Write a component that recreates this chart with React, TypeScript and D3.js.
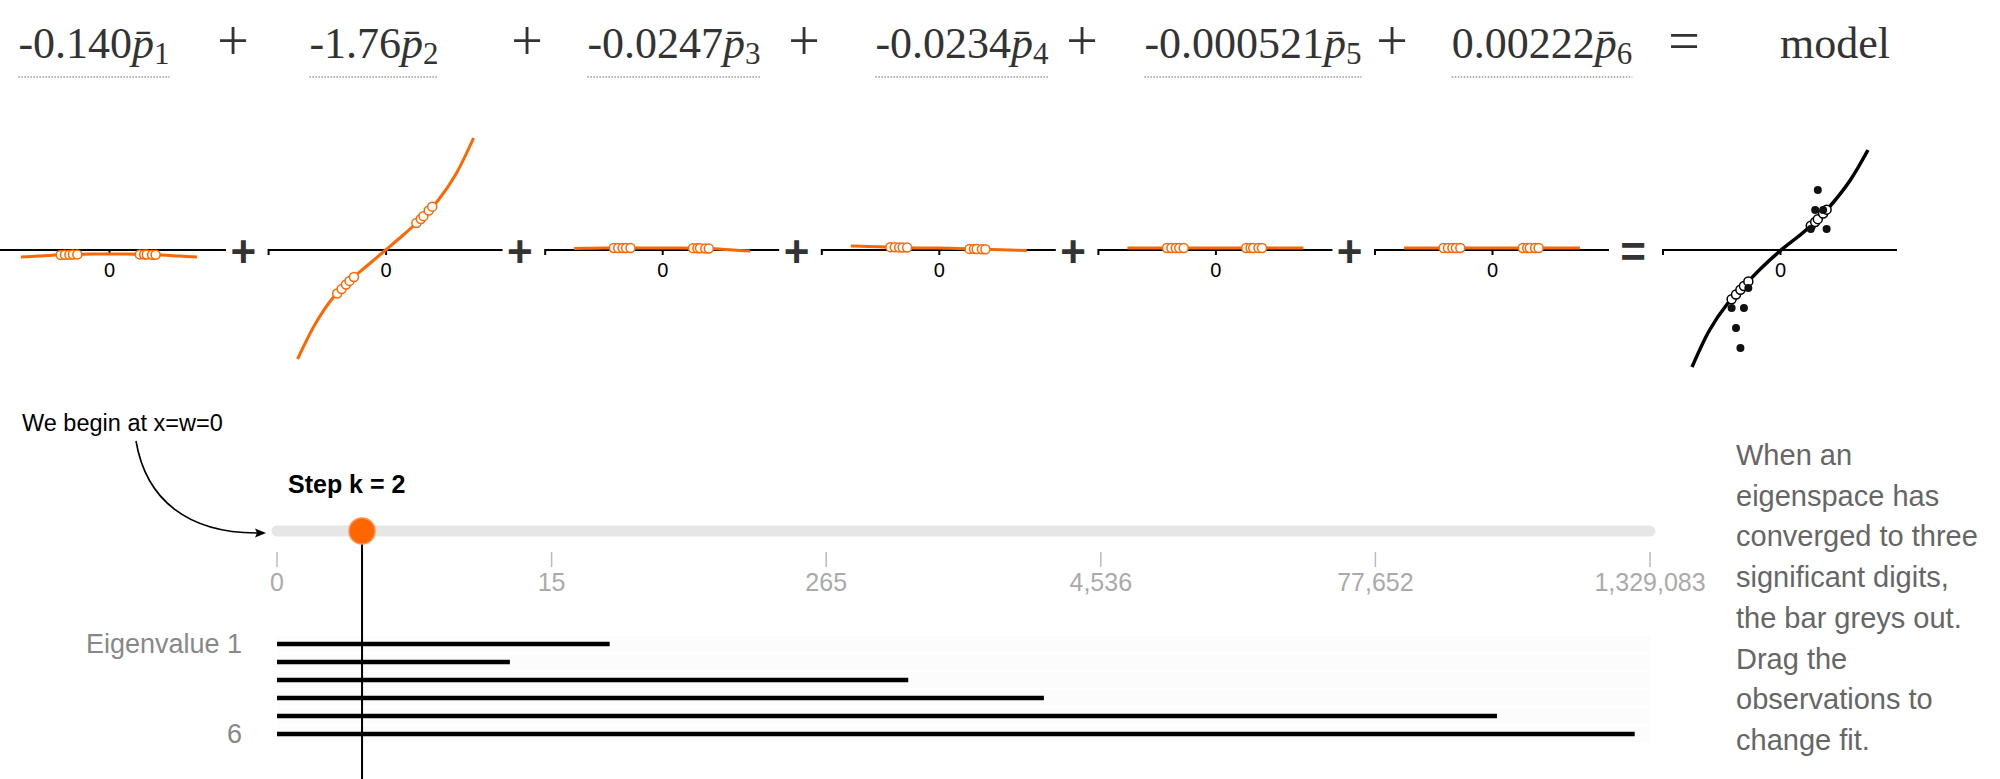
import React, { useRef, useEffect } from 'react';
import * as d3 from 'd3';

const width = 2000;
const height = 779;

// coefficients shown in the equation
const coefLabels = ['-0.140', '-1.76', '-0.0247', '-0.0234', '-0.000521', '0.00222'];

// sample positions for the basis curves (x in [-1, 1])
const curveX = [-1, -0.8, -0.6, -0.4, -0.2, 0, 0.2, 0.4, 0.6, 0.8, 1];

// weighted eigen-feature curves
const p1Values = [-0.07, -0.06, -0.05, -0.045, -0.04, -0.04, -0.04, -0.045, -0.05, -0.06, -0.07];
const p2Values = [-1.09, -0.74, -0.48, -0.3, -0.15, 0, 0.15, 0.31, 0.5, 0.76, 1.12];
const p3Values = [0.015, 0.018, 0.02, 0.02, 0.02, 0.02, 0.02, 0.018, 0.012, 0.0, -0.01];
const p4Values = [0.04, 0.035, 0.03, 0.025, 0.02, 0.02, 0.015, 0.01, 0.005, 0.0, -0.005];
const p5Values = [0.02, 0.02, 0.02, 0.02, 0.02, 0.02, 0.02, 0.02, 0.02, 0.02, 0.02];
const p6Values = [0.02, 0.02, 0.02, 0.02, 0.02, 0.02, 0.02, 0.02, 0.02, 0.02, 0.02];
const modelValues = [-1.17, -0.8, -0.54, -0.35, -0.17, -0.01, 0.13, 0.28, 0.47, 0.7, 1.0];

// observations
const obsX = [-0.55, -0.5, -0.45, -0.41, -0.36, 0.35, 0.4, 0.43, 0.49, 0.53];
const obsY = [-0.58, -0.78, -0.98, -0.58, -0.38, 0.21, 0.4, 0.6, 0.4, 0.21];

// slider
const stepTicks = [0, 15, 265, 4536, 77652, 1329083];
const stepK = 2;
const sliderValue = 1.36;

// steps until each eigenspace converges
const eigenLabels = ['Eigenvalue 1', '', '', '', '', '6'];
const convergeSteps = [28, 9.5, 620, 2520, 273000, 1134600];

const noteLines = [
  'When an',
  'eigenspace has',
  'converged to three',
  'significant digits,',
  'the bar greys out.',
  'Drag the',
  'observations to',
  'change fit.',
];

const sans = '"Liberation Sans", Arial, Helvetica, sans-serif';
const orange = '#ff6600';

const App: React.FC = () => {
  const svgRef = useRef<SVGSVGElement>(null);

  useEffect(() => {
    if (!svgRef.current) return;
    const svg = d3.select(svgRef.current);
    svg.selectAll('*').remove();

    // ---- equation row
    const termCenters = [94, 374, 674, 962, 1253, 1542];
    const opCenters = [233, 527, 804, 1082, 1392];
    const eq = svg.append('g')
      .attr('font-family', '"Liberation Serif", "Times New Roman", serif')
      .attr('font-size', 44)
      .attr('fill', '#333');

    coefLabels.forEach((c, i) => {
      const t = eq.append('text')
        .attr('x', termCenters[i])
        .attr('y', 58)
        .attr('text-anchor', 'middle');
      t.append('tspan').text(c);
      t.append('tspan').attr('font-style', 'italic').text('p\u0304');
      t.append('tspan').attr('font-size', 31).attr('dy', 6).text(String(i + 1));
      const bb = (t.node() as SVGTextElement).getBBox();
      eq.append('line')
        .attr('x1', bb.x).attr('x2', bb.x + bb.width)
        .attr('y1', 77).attr('y2', 77)
        .attr('stroke', '#999')
        .attr('stroke-width', 1.5)
        .attr('stroke-dasharray', '1.5,1.5');
    });
    opCenters.forEach((cx) => {
      eq.append('text').attr('x', cx).attr('y', 60).attr('font-size', 56)
        .attr('text-anchor', 'middle').text('+');
    });
    eq.append('text').attr('x', 1684).attr('y', 60).attr('font-size', 56)
      .attr('text-anchor', 'middle').text('=');
    eq.append('text').attr('x', 1835).attr('y', 58).attr('text-anchor', 'middle').text('model');

    // ---- small plots
    const panels = [p1Values, p2Values, p3Values, p4Values, p5Values, p6Values];
    const panelCenter = d3.scaleLinear().domain([0, 5]).range([109, 1492]);
    const modelCenter = 1780;
    const y = d3.scaleLinear().domain([-1, 1]).range([350, 150]);
    const axisY = y(0);

    const drawPanel = (cx: number, values: number[], color: string, isModel: boolean) => {
      const x = d3.scaleLinear().domain([-1.33, 1.33]).range([cx - 117, cx + 117]);
      const g = svg.append('g');
      const ax = g.append('g')
        .attr('transform', `translate(0,${axisY})`)
        .call(d3.axisBottom(x).tickValues([0]).tickFormat(d3.format('d'))
          .tickSize(5).tickSizeOuter(0).tickPadding(8));
      ax.select('.domain')
        .attr('d', `M${x.range()[0]},5V0H${x.range()[1]}`)
        .attr('stroke', '#000')
        .attr('stroke-width', 2);
      ax.selectAll('.tick line').attr('stroke', '#000').attr('stroke-width', 2);
      ax.selectAll('.tick text')
        .attr('font-size', 20)
        .attr('font-family', sans)
        .attr('fill', '#000');

      const line = d3.line<number>()
        .x((_, i) => x(curveX[i]))
        .y((d) => y(d))
        .curve(d3.curveCatmullRom);
      g.append('path')
        .attr('d', line(values))
        .attr('fill', 'none')
        .attr('stroke', color)
        .attr('stroke-width', isModel ? 3.5 : 3);

      const onCurve = d3.scaleLinear().domain(curveX).range(values);
      g.selectAll('.fit')
        .data(obsX)
        .join('circle')
        .attr('cx', (d) => x(d))
        .attr('cy', (d) => y(onCurve(d)))
        .attr('r', 4.5)
        .attr('fill', '#fff')
        .attr('stroke', color)
        .attr('stroke-width', 1.5);

      if (isModel) {
        g.selectAll('.obs')
          .data(obsX)
          .join('circle')
          .attr('cx', (d) => x(d))
          .attr('cy', (_, i) => y(obsY[i]))
          .attr('r', 4)
          .attr('fill', '#111');
      }
    };

    panels.forEach((vals, i) => drawPanel(panelCenter(i), vals, orange, false));
    drawPanel(modelCenter, modelValues, '#000', true);

    const ops = svg.append('g')
      .attr('font-family', sans)
      .attr('font-weight', 'bold')
      .attr('font-size', 44)
      .attr('fill', '#333')
      .attr('text-anchor', 'middle');
    d3.range(5).forEach((i) => {
      ops.append('text')
        .attr('x', (panelCenter(i) + panelCenter(i + 1)) / 2 - 4)
        .attr('y', axisY + 17)
        .text('+');
    });
    ops.append('text')
      .attr('x', (panelCenter(5) + modelCenter) / 2 - 3)
      .attr('y', axisY + 17)
      .text('=');

    // ---- slider
    const sliderY = 531;
    const sx = d3.scaleLog()
      .domain(stepTicks.map((d) => d + 1))
      .range(d3.quantize(d3.interpolateNumber(277, 1650), stepTicks.length));

    svg.append('line')
      .attr('x1', sx(1)).attr('x2', sx(stepTicks[stepTicks.length - 1] + 1))
      .attr('y1', sliderY).attr('y2', sliderY)
      .attr('stroke', '#e6e6e6')
      .attr('stroke-width', 11)
      .attr('stroke-linecap', 'round');

    const ticks = svg.append('g');
    ticks.selectAll('line')
      .data(stepTicks)
      .join('line')
      .attr('x1', (d) => sx(d + 1)).attr('x2', (d) => sx(d + 1))
      .attr('y1', 552).attr('y2', 567)
      .attr('stroke', '#bbb')
      .attr('stroke-width', 1.5);
    ticks.selectAll('text')
      .data(stepTicks)
      .join('text')
      .attr('x', (d) => sx(d + 1))
      .attr('y', 591)
      .attr('text-anchor', 'middle')
      .attr('font-family', sans)
      .attr('font-size', 25)
      .attr('fill', '#aaa')
      .text((d) => d3.format(',')(d));

    svg.append('text')
      .attr('x', 288)
      .attr('y', 493)
      .attr('font-family', sans)
      .attr('font-size', 25)
      .attr('font-weight', 'bold')
      .attr('fill', '#000')
      .text(`Step k = ${stepK}`);

    // annotation
    svg.append('text')
      .attr('x', 22)
      .attr('y', 431)
      .attr('font-family', sans)
      .attr('font-size', 23.5)
      .attr('fill', '#000')
      .text('We begin at x=w=0');
    svg.append('path')
      .attr('d', 'M136,441 C146,500 188,533 257,533')
      .attr('fill', 'none')
      .attr('stroke', '#000')
      .attr('stroke-width', 1.6);
    svg.append('path')
      .attr('d', 'M266,533 L255,528.5 L257,533 L255,537.5 Z')
      .attr('fill', '#000');

    // ---- eigenvalue bars
    const row = d3.scaleBand<number>().domain(d3.range(6)).range([635, 743]);
    const rowC = (i: number) => (row(i) as number) + row.bandwidth() / 2;
    const bars = svg.append('g');
    bars.selectAll('.bg')
      .data(convergeSteps)
      .join('rect')
      .attr('x', sx(1))
      .attr('width', sx(stepTicks[stepTicks.length - 1] + 1) - sx(1))
      .attr('y', (_, i) => (row(i) as number) + 1)
      .attr('height', row.bandwidth() - 2)
      .attr('fill', '#fcfcfc');
    bars.selectAll('.bar')
      .data(convergeSteps)
      .join('line')
      .attr('x1', sx(1))
      .attr('x2', (d) => sx(d + 1))
      .attr('y1', (_, i) => rowC(i))
      .attr('y2', (_, i) => rowC(i))
      .attr('stroke', '#000')
      .attr('stroke-width', 4.5);
    bars.selectAll('.lab')
      .data(eigenLabels)
      .join('text')
      .attr('x', 242)
      .attr('y', (_, i) => rowC(i) + 9)
      .attr('text-anchor', 'end')
      .attr('font-family', sans)
      .attr('font-size', 27)
      .attr('fill', '#888')
      .text((d) => d);

    // step marker
    svg.append('line')
      .attr('x1', sx(sliderValue + 1)).attr('x2', sx(sliderValue + 1))
      .attr('y1', sliderY).attr('y2', height)
      .attr('stroke', '#000')
      .attr('stroke-width', 2);
    svg.append('circle')
      .attr('cx', sx(sliderValue + 1))
      .attr('cy', sliderY)
      .attr('r', 13)
      .attr('fill', orange)
      .attr('stroke', '#ff9050')
      .attr('stroke-width', 1.5);

    // ---- note
    const note = svg.append('text')
      .attr('font-family', sans)
      .attr('font-size', 29)
      .attr('fill', '#666');
    noteLines.forEach((l, i) => {
      note.append('tspan').attr('x', 1736).attr('y', 465 + i * 40.7).text(l);
    });
  }, []);

  return (
    <svg
      ref={svgRef}
      width={width}
      height={height}
      style={{ position: 'absolute', left: 0, top: 0, background: '#fff', display: 'block' }}
    />
  );
};

export default App;
